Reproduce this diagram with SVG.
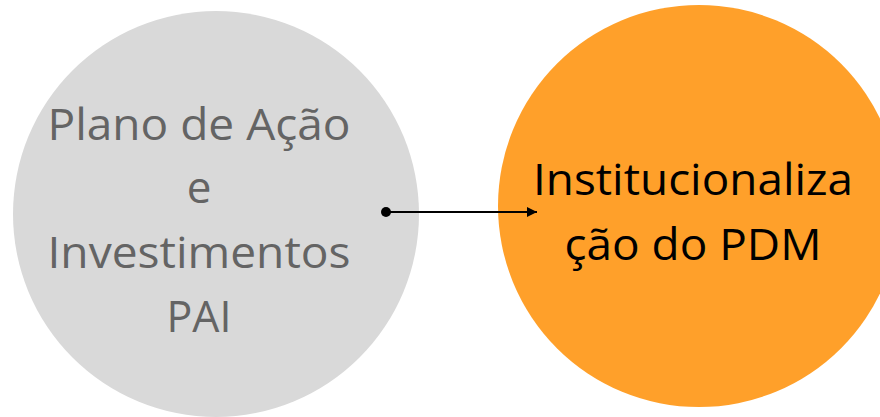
<svg xmlns="http://www.w3.org/2000/svg" width="880" height="417" viewBox="0 0 880 417">
<style>
.t{font-family:"Open Sans","Noto Sans","Liberation Sans",sans-serif;font-size:44px;text-anchor:middle}
.g{fill:#646464}
.b{fill:#000000}
</style>
<defs>
<marker id="arr" markerWidth="10" markerHeight="10" refX="10" refY="5" orient="auto" markerUnits="userSpaceOnUse">
<path d="M0,0 L10,5 L0,10 Z" fill="#000"/>
</marker>
</defs>
<rect width="880" height="417" fill="#ffffff"/>
<g id="node-pai">
<circle cx="216" cy="214" r="203" fill="#d9d9d9"/>
<text class="t g" x="199" y="140" textLength="303" lengthAdjust="spacingAndGlyphs">Plano de Ação</text>
<text class="t g" x="199" y="203">e</text>
<text class="t g" x="199" y="268" textLength="303" lengthAdjust="spacingAndGlyphs">Investimentos</text>
<text class="t g" x="199" y="332" textLength="65" lengthAdjust="spacingAndGlyphs">PAI</text>
</g>
<g id="node-pdm">
<circle cx="699" cy="206" r="201" fill="#ffa02a"/>
<text class="t b" x="693" y="195" textLength="320" lengthAdjust="spacingAndGlyphs">Institucionaliza</text>
<text class="t b" x="693" y="260" textLength="257" lengthAdjust="spacingAndGlyphs">ção do PDM</text>
</g>
<g id="connectors">
<circle cx="386" cy="212" r="5" fill="#000"/>
<line x1="386" y1="212" x2="537" y2="212" stroke="#000" stroke-width="2" marker-end="url(#arr)"/>
</g>
</svg>
